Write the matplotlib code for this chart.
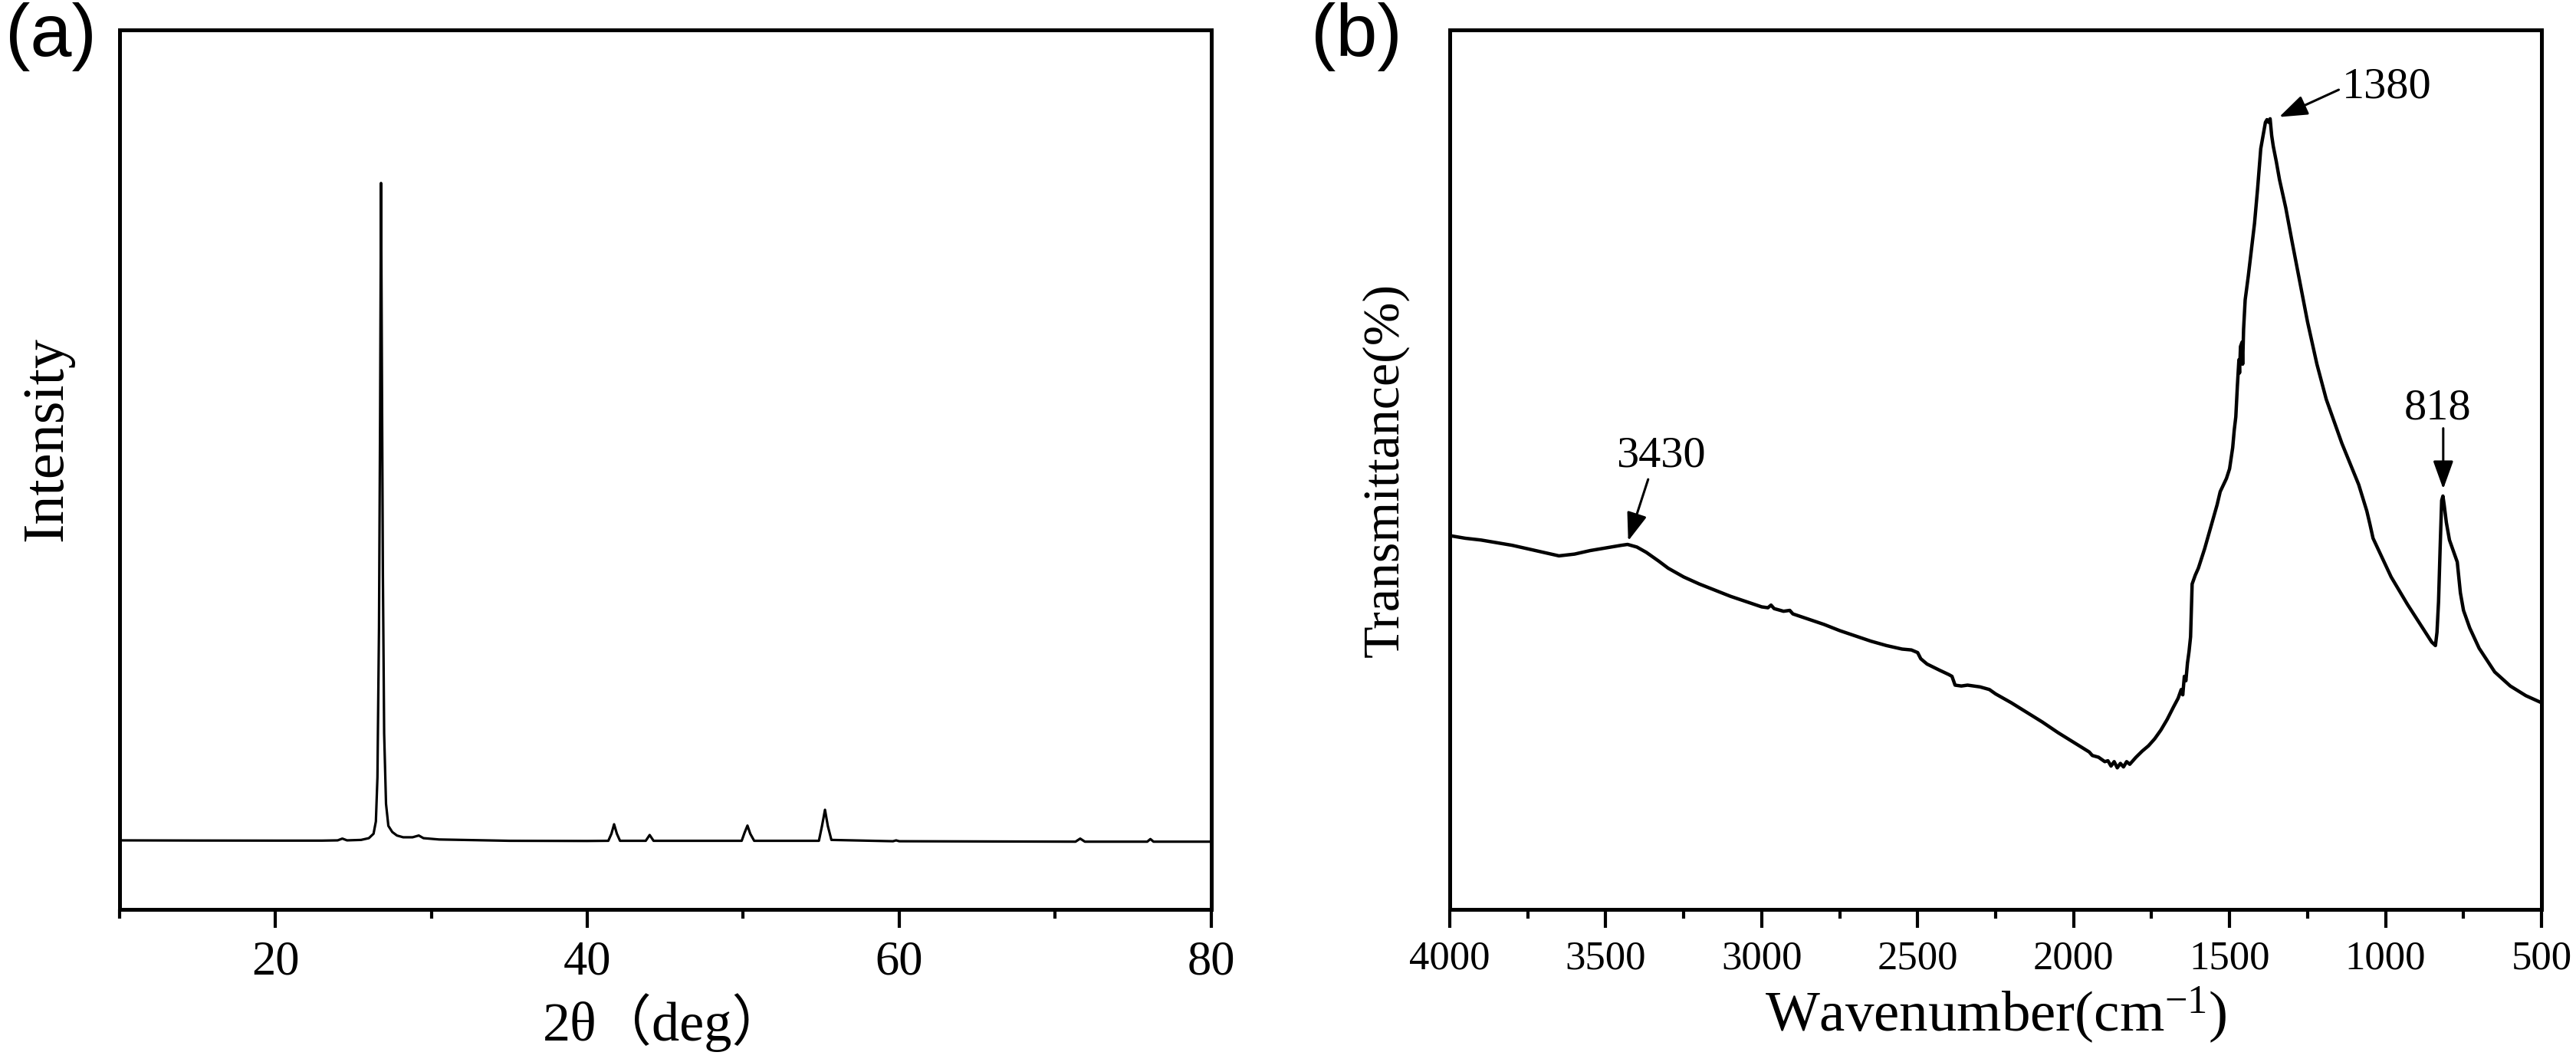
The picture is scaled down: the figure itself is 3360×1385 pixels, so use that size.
import matplotlib
matplotlib.use("Agg")
import matplotlib.pyplot as plt
from matplotlib.ticker import MultipleLocator

# ---------- data ----------
# (a) XRD pattern, 2theta (deg) vs intensity (arb. units, axis top = 1000)
xrd_2theta = [10.0, 15.0, 20.0, 23.0, 24.0, 24.3, 24.6, 25.5, 26.0, 26.3,
              26.45, 26.55, 26.65, 26.72, 26.78, 26.84, 26.9, 26.98, 27.1, 27.25,
              27.5, 27.8, 28.2, 28.8, 29.2, 29.5, 30.5, 35.0, 40.0, 41.35,
              41.55, 41.72, 41.9, 42.1, 43.75, 44.0, 44.25, 49.9, 50.08, 50.27,
              50.45, 50.7, 54.85, 55.05, 55.24, 55.42, 55.65, 59.6, 59.8, 60.0,
              71.3, 71.6, 71.9, 75.9, 76.1, 76.3, 80.0]
xrd_int = [78.5, 78.3, 78.2, 78.2, 78.5, 80.5, 78.5, 79, 81, 86,
           100, 150, 320, 560, 826, 600, 380, 200, 120, 95,
           88, 84, 82, 82, 84, 81, 79.5, 78, 77.8, 78,
           86, 96.8, 86, 78, 78, 84.6, 78, 78, 87, 95.3,
           86, 78, 78, 95, 113.3, 95, 79, 77.5, 78.5, 77.5,
           77, 80.5, 77, 77, 80, 77, 77]

# (b) FTIR spectrum, wavenumber (cm-1) vs transmittance (axis top = 100)
ir_wn = [4000, 3950, 3900, 3850, 3800, 3750, 3700, 3650, 3600, 3550,
         3500, 3450, 3430, 3400, 3370, 3330, 3300, 3250, 3200, 3150,
         3100, 3050, 3000, 2980, 2970, 2960, 2930, 2910, 2900, 2850,
         2800, 2750, 2700, 2650, 2600, 2550, 2520, 2500, 2490, 2470,
         2430, 2400, 2390, 2380, 2360, 2340, 2300, 2270, 2250, 2200,
         2150, 2100, 2050, 2000, 1950, 1940, 1920, 1900, 1890, 1880,
         1870, 1860, 1850, 1840, 1830, 1820, 1800, 1780, 1760, 1740,
         1720, 1700, 1680, 1665, 1655, 1650, 1645, 1640, 1635, 1630,
         1625, 1620, 1610, 1600, 1580, 1560, 1540, 1530, 1510, 1500,
         1490, 1485, 1480, 1475, 1470, 1468, 1465, 1460, 1458, 1455,
         1450, 1440, 1430, 1420, 1410, 1400, 1390, 1385, 1380, 1375,
         1370, 1365, 1360, 1350, 1340, 1320, 1300, 1280, 1250, 1220,
         1190, 1140, 1086, 1060, 1050, 1040, 982, 930, 890, 852,
         840, 835, 830, 825, 820, 816, 812, 805, 795, 780,
         770, 760, 750, 730, 700, 650, 600, 550, 500]
ir_t = [42.5, 42.2, 42.0, 41.7, 41.4, 41.0, 40.6, 40.2, 40.4, 40.8,
        41.1, 41.4, 41.5, 41.2, 40.6, 39.6, 38.8, 37.8, 37.0, 36.3,
        35.6, 35.0, 34.4, 34.3, 34.6, 34.2, 33.9, 34.0, 33.6, 33.0,
        32.4, 31.7, 31.1, 30.5, 30.0, 29.6, 29.5, 29.2, 28.5, 27.9,
        27.2, 26.7, 26.5, 25.5, 25.4, 25.5, 25.3, 25.0, 24.5, 23.5,
        22.4, 21.3, 20.1, 19.0, 17.9, 17.5, 17.3, 16.8, 16.9, 16.3,
        16.8, 16.1, 16.6, 16.2, 16.8, 16.5, 17.3, 18.0, 18.6, 19.4,
        20.4, 21.6, 23.0, 24.0, 25.0, 24.4, 26.5, 26.0, 28.0, 29.3,
        31.0, 37.0, 38.0, 38.8, 41.0, 43.5, 46.0, 47.5, 49.0, 50.1,
        52.5, 54.5, 56.0, 59.5, 62.5, 61.0, 64.0, 64.5, 62.0, 66.0,
        69.3, 72.0, 75.0, 78.0, 82.0, 86.5, 88.5, 89.5, 89.8, 89.5,
        89.9, 88.0, 86.8, 85.0, 83.0, 79.8, 76.0, 72.3, 66.8, 62.0,
        58.0, 53.0, 48.3, 45.3, 43.8, 42.2, 37.8, 34.7, 32.5, 30.4,
        30.0, 31.5, 35.0, 41.0, 46.5, 47.0, 46.0, 44.0, 42.0, 40.5,
        39.5, 36.0, 34.0, 32.0, 29.7, 27.0, 25.4, 24.3, 23.5]

# peak labels and arrows: text, text position, arrow tail, arrow head
ir_labels = ["3430", "1380", "818"]
ir_label_pos = [(3323, 51.6), (995, 93.5), (832, 57.0)]
ir_arrow_tail = [(3364, 48.9), (1150, 93.2), (815, 54.7)]
ir_arrow_head = [(3428, 41.9), (1341, 90.1), (815, 47.8)]

# ---------- style ----------
plt.rcParams['font.family'] = ['Liberation Serif', 'Noto Sans CJK SC']
plt.rcParams['mathtext.fontset'] = 'custom'
plt.rcParams['mathtext.rm'] = 'Liberation Serif'
plt.rcParams['mathtext.it'] = 'Liberation Serif:italic'
plt.rcParams['axes.linewidth'] = 3.6

fig = plt.figure(figsize=(33.6, 13.85), dpi=100)
ax_a = fig.add_axes([0.0463, 0.1437, 0.4239, 0.8281])
ax_b = fig.add_axes([0.5628, 0.1437, 0.4238, 0.8281])


def style_axis(ax, label_size):
    ax.tick_params(axis='x', which='major', direction='out', length=17,
                   width=3, labelsize=label_size, pad=12)
    ax.tick_params(axis='x', which='minor', direction='out', length=8.5,
                   width=3)
    ax.set_yticks([])


# ---------- (a) XRD ----------
ax_a.plot(xrd_2theta, xrd_int, color='black', lw=2.3)
ax_a.set_xlim(10, 80)
ax_a.set_ylim(0, 1000)
ax_a.xaxis.set_major_locator(MultipleLocator(20))
ax_a.xaxis.set_minor_locator(MultipleLocator(10))
style_axis(ax_a, 45)
ax_a.set_xlabel("2θ（deg）", fontsize=52, labelpad=8)
ax_a.set_ylabel("Intensity", fontsize=55)
ax_a.yaxis.set_label_coords(-0.0414, 0.535)

# ---------- (b) FTIR ----------
ax_b.plot(ir_wn, ir_t, color='black', lw=3.2)
ax_b.set_xlim(4000, 500)
ax_b.set_ylim(0, 100)
ax_b.xaxis.set_major_locator(MultipleLocator(500))
ax_b.xaxis.set_minor_locator(MultipleLocator(250))
style_axis(ax_b, 38)
ax_b.set_xlabel("Wavenumber(cm$^{-1}$)", fontsize=54, labelpad=8)
ax_b.set_ylabel("Transmittance(%)", fontsize=49)
ax_b.yaxis.set_label_coords(-0.0372, 0.50)

for txt, pos, tail, head in zip(ir_labels, ir_label_pos, ir_arrow_tail, ir_arrow_head):
    ax_b.text(pos[0], pos[1], txt, fontsize=42, ha='center', va='center')
    ax_b.annotate("", xy=head, xytext=tail,
                  arrowprops=dict(arrowstyle='-|>,head_length=0.5,head_width=0.18',
                                  color='black', lw=2.2, mutation_scale=45,
                                  shrinkA=0, shrinkB=0))

# panel letters
fig.text(0.002, 0.998, "(a)", fontsize=70, family='Liberation Sans',
         ha='left', va='top')
fig.text(0.509, 0.998, "(b)", fontsize=70, family='Liberation Sans',
         ha='left', va='top')

fig.savefig("out.png", dpi=100)
